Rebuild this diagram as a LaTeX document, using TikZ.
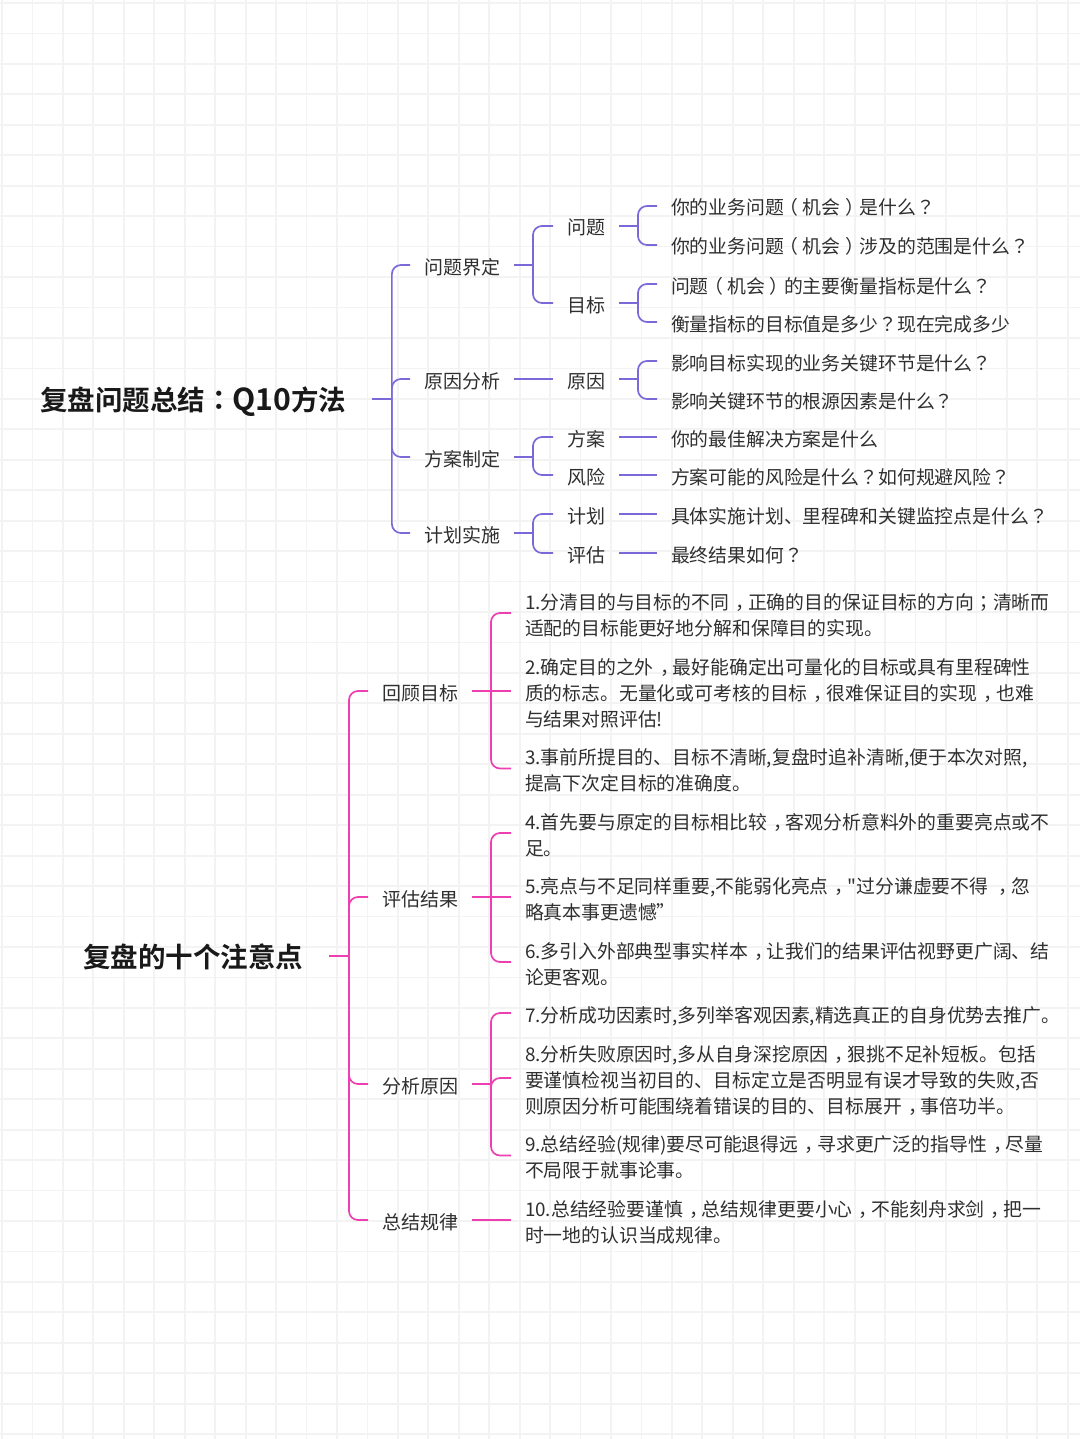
\documentclass[tikz,border=0pt]{standalone}
\usepackage{fontspec}
\setmainfont{Noto Sans CJK SC}
\newfontfamily\cjk[BoldFont={Noto Sans CJK SC Bold}]{Noto Sans CJK SC}
\newfontfamily\tcf[BoldFont={Noto Sans CJK TC Bold}]{Noto Sans CJK TC}
\newcommand{\Cm}{\kern.33em ，\kern-.33em }
\newcommand{\Qm}{{\tcf ？}}
\newcommand{\Co}{{\tcf ：}}
\newcommand{\Lp}{\kern-.25em （\kern.25em }
\newcommand{\Rp}{\kern.25em ）\kern-.25em }
\newcommand{\Sc}{{\tcf ；}}
\newcommand{\ml}[1]{\rule{0pt}{22pt}#1\rule[-4pt]{0pt}{4pt}}
\newcommand{\mr}[1]{\rule{0pt}{29pt}#1\rule[-7pt]{0pt}{7pt}}
% branch: horizontal stem from the parent, then a rounded elbow from the trunk to the child
\newcommand{\lnk}[4]{\draw[#1] (#2.east) -- ++(#3,0) (#2.east) ++(#3,0) |- (#4.west);}
% straight connector for a child on the parent's level
\newcommand{\lns}[3]{\draw[#1] (#2.east) -- (#3.west);}
\definecolor{blueline}{HTML}{7B68D9}
\definecolor{pinkline}{HTML}{EE3FB0}
\definecolor{gridc}{HTML}{F3F3F3}
\definecolor{ink}{HTML}{2F2F2F}
\tikzset{
  gridline/.style={draw=gridc,line width=1.8pt},
  txt/.style={anchor=west,xshift=-14pt,inner sep=0pt,outer xsep=14pt,align=left,text=ink,font=\cjk\fontsize{18.85}{26}\selectfont},
  lbl/.style={txt,font=\cjk\fontsize{19}{26}\selectfont},
  root/.style={anchor=west,xshift=-26pt,inner sep=0pt,outer xsep=26pt,text=black!90,font=\cjk\bfseries\fontsize{27.5}{32}\selectfont},
  bl/.style={line width=1.7pt,draw=blueline,rounded corners=9pt},
  pl/.style={line width=1.7pt,draw=pinkline,rounded corners=9pt},
}
\begin{document}
\begin{tikzpicture}[x=1pt,y=-1pt]
\useasboundingbox (0,0) rectangle (1080,1439);
\fill[white] (0,0) rectangle (1080,1439);
\foreach \k in {0,...,35} {\draw[gridline] ({2+30.45*\k},0) -- ({2+30.45*\k},1439);}
\foreach \k in {0,...,47} {\draw[gridline] (0,{3+30.45*\k}) -- (1080,{3+30.45*\k});}
% upper tree
\node[root] (r1) at (40,399) {\mr{复盘问题总结\Co {\fontsize{30.2}{32}\selectfont Q10}方法}};
\node[lbl] (a1) at (424,265) {\ml{问题界定}};
\node[lbl] (a2) at (424,379) {\ml{原因分析}};
\node[lbl] (a3) at (424,457) {\ml{方案制定}};
\node[lbl] (a4) at (424,533) {\ml{计划实施}};
\node[lbl] (b1) at (567,226) {\ml{问题}};
\node[lbl] (b2) at (567,303) {\ml{目标}};
\node[lbl] (b3) at (567,379) {\ml{原因}};
\node[lbl] (b4) at (567,437) {\ml{方案}};
\node[lbl] (b5) at (567,475) {\ml{风险}};
\node[lbl] (b6) at (567,514) {\ml{计划}};
\node[lbl] (b7) at (567,553) {\ml{评估}};
\node[txt] (c1) at (671,206) {\ml{你的业务问题\Lp 机会\Rp 是什么\Qm}};
\node[txt] (c2) at (671,245) {\ml{你的业务问题\Lp 机会\Rp 涉及的范围是什么\Qm}};
\node[txt] (c3) at (671,284) {\ml{问题\Lp 机会\Rp 的主要衡量指标是什么\Qm}};
\node[txt] (c4) at (671,322) {\ml{衡量指标的目标值是多少\Qm 现在完成多少}};
\node[txt] (c5) at (671,361) {\ml{影响目标实现的业务关键环节是什么\Qm}};
\node[txt] (c6) at (671,399) {\ml{影响关键环节的根源因素是什么\Qm}};
\node[txt] (c7) at (671,437) {\ml{你的最佳解决方案是什么}};
\node[txt] (c8) at (671,475) {\ml{方案可能的风险是什么\Qm 如何规避风险\Qm}};
\node[txt] (c9) at (671,514) {\ml{具体实施计划、里程碑和关键监控点是什么\Qm}};
\node[txt] (c10) at (671,553) {\ml{最终结果如何\Qm}};
\foreach \x in {a1,a2,a3,a4} {\lnk{bl}{r1}{19.5}{\x}}
\lnk{bl}{a1}{19}{b1}
\lnk{bl}{a1}{19}{b2}
\lns{bl}{a2}{b3}
\lnk{bl}{a3}{19}{b4}
\lnk{bl}{a3}{19}{b5}
\lnk{bl}{a4}{19}{b6}
\lnk{bl}{a4}{19}{b7}
\lnk{bl}{b1}{19}{c1}
\lnk{bl}{b1}{19}{c2}
\lnk{bl}{b2}{19}{c3}
\lnk{bl}{b2}{19}{c4}
\lnk{bl}{b3}{19}{c5}
\lnk{bl}{b3}{19}{c6}
\lns{bl}{b4}{c7}
\lns{bl}{b5}{c8}
\lns{bl}{b6}{c9}
\lns{bl}{b7}{c10}
% lower tree
\node[root] (r2) at (83,956) {\mr{复盘的十个注意点}};
\node[lbl] (d1) at (382,691) {\ml{回顾目标}};
\node[lbl] (d2) at (382,897) {\ml{评估结果}};
\node[lbl] (d3) at (382,1084) {\ml{分析原因}};
\node[lbl] (d4) at (382,1220) {\ml{总结规律}};
\node[txt] (e1) at (525,613) {\ml{1.分清目的与目标的不同\Cm 正确的目的保证目标的方向\Sc 清晰而\\适配的目标能更好地分解和保障目的实现。}};
\node[txt] (e2) at (525,691) {\ml{2.确定目的之外\Cm 最好能确定出可量化的目标或具有里程碑性\\质的标志。无量化或可考核的目标\Cm 很难保证目的实现\Cm 也难\\与结果对照评估!}};
\node[txt] (e3) at (525,768.5) {\ml{3.事前所提目的、目标不清晰,复盘时追补清晰,便于本次对照,\\提高下次定目标的准确度。}};
\node[txt] (e4) at (525,833) {\ml{4.首先要与原定的目标相比较\Cm 客观分析意料外的重要亮点或不\\足。}};
\node[txt] (e5) at (525,897) {\ml{5.亮点与不足同样重要,不能弱化亮点\Cm "过分谦虚要不得 \Cm 忽\\略真本事更遗憾”}};
\node[txt] (e6) at (525,962) {\ml{6.多引入外部典型事实样本\Cm 让我们的结果评估视野更广阔、结\\论更客观。}};
\node[txt] (e7) at (525,1013) {\ml{7.分析成功因素时,多列举客观因素,精选真正的自身优势去推广。}};
\node[txt] (e8) at (525,1078) {\ml{8.分析失败原因时,多从自身深挖原因\Cm 狠挑不足补短板。包括\\要谨慎检视当初目的、目标定立是否明显有误才导致的失败,否\\则原因分析可能围绕着错误的目的、目标展开\Cm 事倍功半。}};
\node[txt] (e9) at (525,1155.5) {\ml{9.总结经验(规律)要尽可能退得远\Cm 寻求更广泛的指导性\Cm 尽量\\不局限于就事论事。}};
\node[txt] (e10) at (525,1220) {\ml{10.总结经验要谨慎\Cm 总结规律更要小心\Cm 不能刻舟求剑\Cm 把一\\时一地的认识当成规律。}};
\foreach \x in {d1,d2,d3,d4} {\lnk{pl}{r2}{20}{\x}}
\lns{pl}{d1}{e2}
\foreach \x in {e1,e3} {\lnk{pl}{d1}{19}{\x}}
\foreach \x in {e4,e6} {\lnk{pl}{d2}{19}{\x}}
\lns{pl}{d2}{e5}
\foreach \x in {e7,e8,e9} {\lnk{pl}{d3}{19}{\x}}
\lns{pl}{d4}{e10}
\end{tikzpicture}
\end{document}
